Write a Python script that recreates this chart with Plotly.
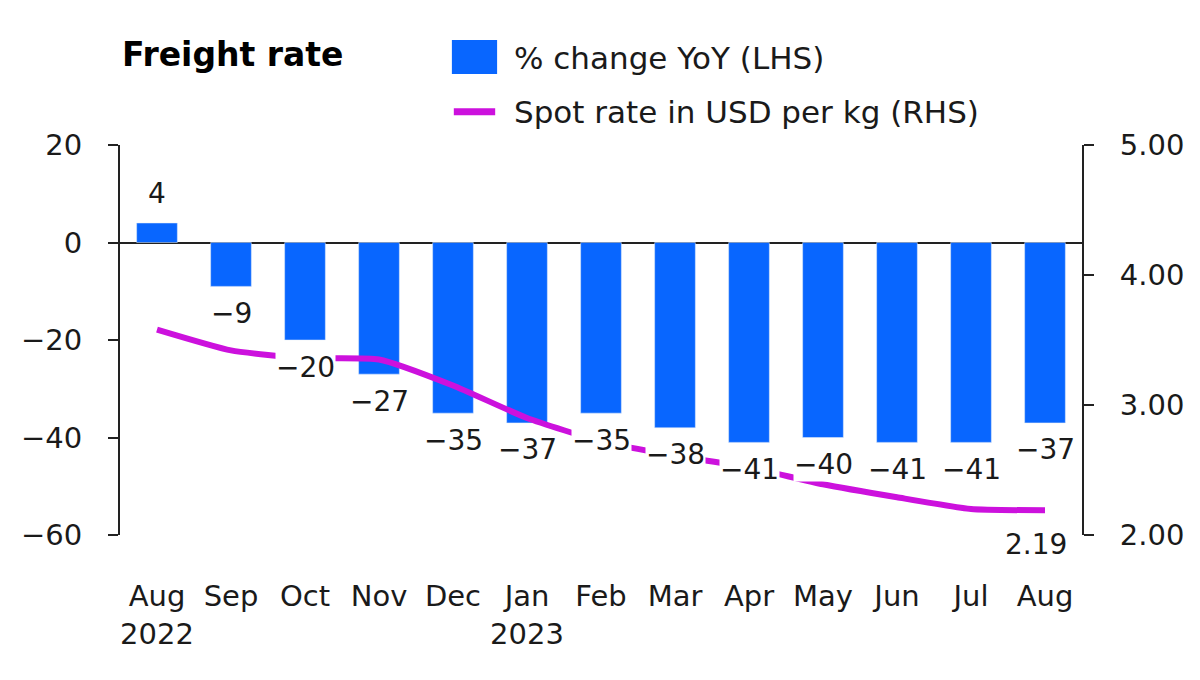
import plotly.graph_objects as go

categories = ["2022-08", "2022-09", "2022-10", "2022-11", "2022-12", "2023-01", "2023-02",
              "2023-03", "2023-04", "2023-05", "2023-06", "2023-07", "2023-08"]
tick_labels = ["Aug<br>2022", "Sep", "Oct", "Nov", "Dec", "Jan<br>2023", "Feb",
               "Mar", "Apr", "May", "Jun", "Jul", "Aug"]
yoy_change = [4, -9, -20, -27, -35, -37, -35, -38, -41, -40, -41, -41, -37]
spot_rate = [3.58, 3.42, 3.36, 3.35, 3.15, 2.90, 2.72, 2.61, 2.52, 2.39, 2.29, 2.20, 2.19]

BAR_COLOR = "#0866FF"
LINE_COLOR = "#CC11DD"
FONT = "DejaVu Sans"
TXT = "#1a1a1a"

fig = go.Figure()
fig.add_trace(go.Bar(x=categories, y=yoy_change, marker_color=BAR_COLOR, width=0.55,
                     name="% change YoY (LHS)", showlegend=False))
fig.add_trace(go.Scatter(x=categories, y=spot_rate, yaxis="y2", mode="lines",
                         line=dict(color=LINE_COLOR, width=6, shape="spline", smoothing=0.5),
                         name="Spot rate in USD per kg (RHS)", showlegend=False))

annotations = []
for c, v in zip(categories, yoy_change):
    annotations.append(dict(x=c, y=v, xref="x", yref="y", text=str(v).replace("-", "\u2212"),
                            showarrow=False, yshift=30 if v >= 0 else -27,
                            font=dict(size=28, color=TXT, family=FONT),
                            bgcolor="white", borderpad=0))
annotations.append(dict(x=categories[-1], y=spot_rate[-1], xref="x", yref="y2",
                        text=f"{spot_rate[-1]:.2f}", showarrow=False, yshift=-34, xshift=-9,
                        font=dict(size=28, color=TXT, family=FONT)))
# title and legend
annotations.append(dict(x=0, y=1.231, xref="paper", yref="paper", text="<b>Freight rate</b>",
                        showarrow=False, xanchor="left", yanchor="middle",
                        font=dict(size=33, color="black", family=FONT)))
annotations.append(dict(x=0.4075, y=1.223, xref="paper", yref="paper", text="% change YoY (LHS)",
                        showarrow=False, xanchor="left", yanchor="middle",
                        font=dict(size=31, color=TXT, family=FONT)))
annotations.append(dict(x=0.4075, y=1.085, xref="paper", yref="paper",
                        text="Spot rate in USD per kg (RHS)",
                        showarrow=False, xanchor="left", yanchor="middle",
                        font=dict(size=31, color=TXT, family=FONT)))

shapes = [
    dict(type="rect", xref="paper", yref="paper", x0=0.345, x1=0.392, y0=1.182, y1=1.269,
         fillcolor=BAR_COLOR, line=dict(width=0)),
    dict(type="line", xref="paper", yref="paper", x0=0.347, x1=0.390, y0=1.085, y1=1.085,
         line=dict(color=LINE_COLOR, width=7)),
]

fig.update_layout(
    width=1184, height=664,
    margin=dict(l=112, r=110, t=137, b=137),
    paper_bgcolor="white", plot_bgcolor="white",
    font=dict(family=FONT, size=28, color=TXT),
    annotations=annotations,
    shapes=shapes,
    xaxis=dict(type="category", tickmode="array", tickvals=categories, ticktext=tick_labels,
               showline=False, ticks="", showgrid=False, ticklabelstandoff=41,
               automargin=False, tickfont=dict(size=29, color=TXT, family=FONT)),
    yaxis=dict(range=[-60, 20], tickvals=[-60, -40, -20, 0, 20], showgrid=False,
               showline=True, linecolor="#222", linewidth=2, ticks="outside",
               ticklen=10, tickwidth=2, tickcolor="#222", automargin=False,
               zeroline=True, zerolinecolor="#222", zerolinewidth=2,
               tickfont=dict(size=29, color=TXT, family=FONT), ticklabelstandoff=20),
    yaxis2=dict(range=[2, 5], tickvals=[2, 3, 4, 5], tickformat=".2f", overlaying="y",
                side="right", showgrid=False, showline=True, linecolor="#222", linewidth=2,
                ticks="outside", ticklen=10, tickwidth=2, tickcolor="#222", zeroline=False,
                automargin=False,
                tickfont=dict(size=29, color=TXT, family=FONT), ticklabelstandoff=20),
)

fig.write_html("out.html")
